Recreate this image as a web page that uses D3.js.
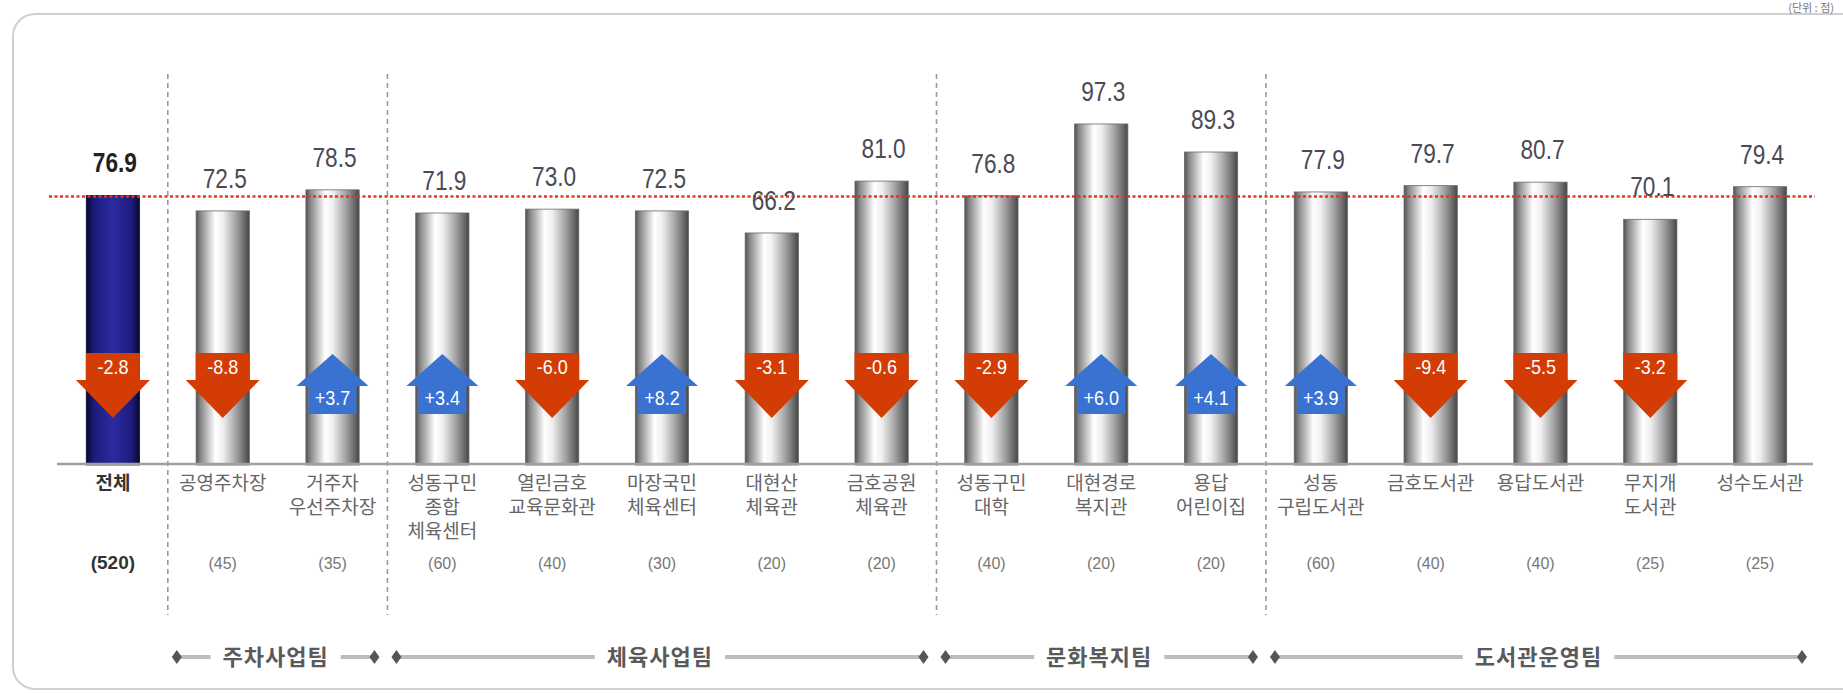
<!DOCTYPE html>
<html>
<head>
<meta charset="utf-8">
<script src="https://cdn.jsdelivr.net/npm/d3@7.9.0/dist/d3.min.js"></script>
<style>
  html, body { margin: 0; padding: 0; background: #fff; }
  svg { display: block; }
</style>
</head>
<body>
<svg id="chart" width="1843" height="693"></svg>
<script>
// data
const categories = ['전체', '공영주차장', '거주자\n우선주차장', '성동구민\n종합\n체육센터', '열린금호\n교육문화관',
  '마장국민\n체육센터', '대현산\n체육관', '금호공원\n체육관', '성동구민\n대학', '대현경로\n복지관',
  '용답\n어린이집', '성동\n구립도서관', '금호도서관', '용답도서관', '무지개\n도서관', '성수도서관'];
const scores = [76.9, 72.5, 78.5, 71.9, 73.0, 72.5, 66.2, 81.0, 76.8, 97.3, 89.3, 77.9, 79.7, 80.7, 70.1, 79.4];
const changes = [-2.8, -8.8, 3.7, 3.4, -6.0, 8.2, -3.1, -0.6, -2.9, 6.0, 4.1, 3.9, -9.4, -5.5, -3.2, null];
const counts = [520, 45, 35, 60, 40, 30, 20, 20, 40, 20, 20, 60, 40, 40, 25, 25];
const teams = ['주차사업팀', '체육사업팀', '문화복지팀', '도서관운영팀'];
const teamFirst = [1, 3, 8, 11];
const teamLast = [2, 7, 10, 15];

const svg = d3.select('#chart');
const korean = '"Noto Sans CJK KR", "Noto Sans", sans-serif';
const numFont = '"Liberation Sans", Arial, sans-serif';

// gradients for the cylinders
const defs = svg.append('defs');
const grey = defs.append('linearGradient').attr('id', 'grey');
[[0, '#505050'], [0.08, '#858585'], [0.36, '#ffffff'], [0.5, '#f0f0f0'], [0.74, '#a6a6a6'], [0.92, '#666'], [1, '#454545']]
  .forEach(([o, c]) => grey.append('stop').attr('offset', o).attr('stop-color', c));
const navy = defs.append('linearGradient').attr('id', 'navy');
[[0, '#080830'], [0.15, '#1c1c7c'], [0.5, '#2b2ba0'], [0.85, '#1c1c7c'], [1, '#080830']]
  .forEach(([o, c]) => navy.append('stop').attr('offset', o).attr('stop-color', c));

// frame
svg.append('rect')
  .attr('x', 13).attr('y', 14).attr('width', 1900).attr('height', 675).attr('rx', 22)
  .attr('fill', 'none').attr('stroke', '#cfcfcf').attr('stroke-width', 2);
svg.append('text')
  .attr('x', 1834).attr('y', 12).attr('text-anchor', 'end')
  .attr('font-family', korean).attr('font-size', 11).attr('fill', '#777')
  .text('(단위 : 점)');

const x = d3.scaleBand().domain(d3.range(categories.length)).range([58, 1815])
  .paddingInner(0.515).paddingOuter(0.2575);
const y = d3.scaleLinear().domain([0, 100]).range([465, 114.5]);
const cx = (i) => x(i) + x.bandwidth() / 2;
const half = (a, b) => (cx(a) + cx(b)) / 2;

// group separators
const seps = [half(0, 1), half(2, 3), half(7, 8), half(10, 11)];
svg.selectAll('.sep').data(seps).join('line')
  .attr('x1', (d) => d).attr('x2', (d) => d).attr('y1', 74).attr('y2', 615)
  .attr('stroke', '#9a9a9a').attr('stroke-width', 1.6).attr('stroke-dasharray', '5 4');

// bars
svg.selectAll('.bar').data(scores).join('rect')
  .attr('x', (d, i) => x(i)).attr('width', x.bandwidth())
  .attr('y', (d) => y(d)).attr('height', (d) => y(0) - y(d))
  .attr('fill', (d, i) => (i === 0 ? 'url(#navy)' : 'url(#grey)'))
  .attr('stroke', (d, i) => (i === 0 ? '#0a0a3a' : '#6a6a6a')).attr('stroke-width', 0.8);

// reference line at the overall score
svg.append('line')
  .attr('x1', 49).attr('x2', 1815).attr('y1', y(scores[0]) + 1).attr('y2', y(scores[0]) + 1)
  .attr('stroke', '#e5341c').attr('stroke-width', 2.5).attr('stroke-dasharray', '3 2.5');

// baseline
svg.append('line')
  .attr('x1', 57).attr('x2', 1813).attr('y1', y(0) - 1).attr('y2', y(0) - 1)
  .attr('stroke', '#a0a0a0').attr('stroke-width', 2.5);

// value labels
svg.selectAll('.val').data(scores).join('text')
  .attr('transform', (d, i) => `translate(${cx(i) + 2},${y(d) - 23}) scale(0.84,1)`)
  .attr('text-anchor', 'middle')
  .attr('font-family', numFont).attr('font-size', 27)
  .attr('font-weight', (d, i) => (i === 0 ? 'bold' : 'normal'))
  .attr('fill', (d, i) => (i === 0 ? '#222' : '#4a4a55'))
  .text((d) => d.toFixed(1));

// change arrows
const fmt = (v) => (v < 0 ? '-' : '+') + Math.abs(v).toFixed(1);
const arrowPath = (c, v) => {
  if (v < 0) {
    return `M${c - 27},353 H${c + 27} V380 H${c + 37} L${c},418 L${c - 37},380 H${c - 27} Z`;
  }
  return `M${c},354 L${c + 36},386 H${c + 24} V414 H${c - 24} V386 H${c - 36} Z`;
};
const arrows = changes.map((v, i) => ({ v, i })).filter((d) => d.v !== null);
svg.selectAll('.arrow').data(arrows).join('path')
  .attr('d', (d) => arrowPath(cx(d.i), d.v))
  .attr('fill', (d) => (d.v < 0 ? '#d33c04' : '#3a72d2'));
svg.selectAll('.chg').data(arrows).join('text')
  .attr('transform', (d) => `translate(${cx(d.i)},${d.v < 0 ? 374 : 405}) scale(0.9,1)`)
  .attr('text-anchor', 'middle')
  .attr('font-family', numFont).attr('font-size', 20).attr('fill', '#fff')
  .text((d) => fmt(d.v));

// category labels
const lab = svg.selectAll('.cat').data(categories).join('text')
  .attr('text-anchor', 'middle')
  .attr('font-family', korean).attr('font-size', 19)
  .attr('font-weight', (d, i) => (i === 0 ? 'bold' : 'normal'))
  .attr('fill', (d, i) => (i === 0 ? '#333' : '#666'));
lab.each(function (d, i) {
  d3.select(this).selectAll('tspan').data(d.split('\n')).join('tspan')
    .attr('x', cx(i)).attr('y', (t, k) => 490 + k * 24)
    .text((t) => t);
});

// sample sizes
svg.selectAll('.cnt').data(counts).join('text')
  .attr('x', (d, i) => cx(i)).attr('y', 569)
  .attr('text-anchor', 'middle')
  .attr('font-family', numFont).attr('font-size', (d, i) => (i === 0 ? 19 : 16))
  .attr('font-weight', (d, i) => (i === 0 ? 'bold' : 'normal'))
  .attr('fill', (d, i) => (i === 0 ? '#333' : '#777'))
  .text((d) => `(${d})`);

// team brackets
const gy = 657;
teams.forEach((name, k) => {
  const left = x(teamFirst[k]) - x.step() * x.paddingInner() / 2 + 9;
  const right = x(teamLast[k]) + x.bandwidth() + x.step() * x.paddingInner() / 2 - 13;
  const mid = (left + right) / 2;
  const g = svg.append('g');
  const t = g.append('text')
    .attr('x', mid).attr('y', gy + 8).attr('text-anchor', 'middle')
    .attr('font-family', korean).attr('font-size', 22).attr('font-weight', 'bold')
    .attr('letter-spacing', 1).attr('fill', '#5a5a5a')
    .text(name);
  const w = t.node().getComputedTextLength() / 2 + 12;
  g.append('line').attr('x1', left).attr('x2', mid - w).attr('y1', gy).attr('y2', gy)
    .attr('stroke', '#bdbdbd').attr('stroke-width', 4);
  g.append('line').attr('x1', mid + w).attr('x2', right).attr('y1', gy).attr('y2', gy)
    .attr('stroke', '#bdbdbd').attr('stroke-width', 4);
  [left, right].forEach((px) => {
    g.append('path')
      .attr('d', `M${px},${gy - 7} L${px + 5},${gy} L${px},${gy + 7} L${px - 5},${gy} Z`)
      .attr('fill', '#555');
  });
});
</script>
</body>
</html>
